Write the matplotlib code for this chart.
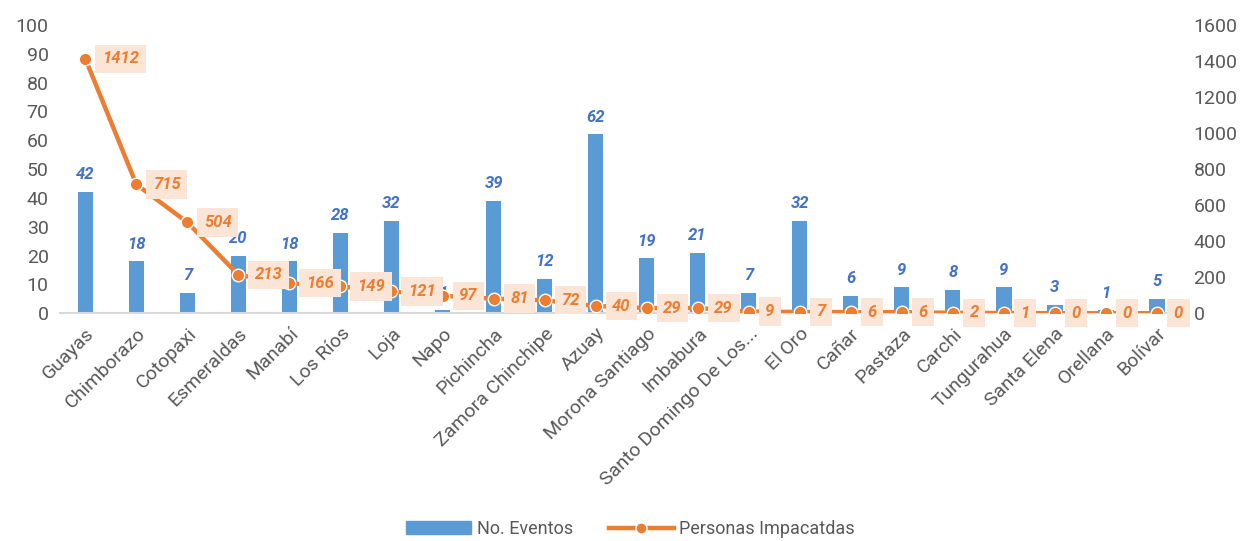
import matplotlib
matplotlib.use("Agg")
import matplotlib.pyplot as plt
import matplotlib.transforms as mtransforms
from matplotlib.lines import Line2D
from matplotlib.patches import Patch

provincias = ["Guayas", "Chimborazo", "Cotopaxi", "Esmeraldas", "Manabí", "Los Ríos", "Loja",
              "Napo", "Pichincha", "Zamora Chinchipe", "Azuay", "Morona Santiago", "Imbabura",
              "Santo Domingo De Los...", "El Oro", "Cañar", "Pastaza", "Carchi", "Tungurahua",
              "Santa Elena", "Orellana", "Bolívar"]
eventos = [42, 18, 7, 20, 18, 28, 32, 1, 39, 12, 62, 19, 21, 7, 32, 6, 9, 8, 9, 3, 1, 5]
personas = [1412, 715, 504, 213, 166, 149, 121, 97, 81, 72, 40, 29, 29, 9, 7, 6, 6, 2, 1, 0, 0, 0]

plt.rcParams["font.family"] = ["Roboto", "DejaVu Sans"]

blue = "#5B9BD5"
orange = "#ED7D31"
gray = "#595959"

fig = plt.figure(figsize=(12.46, 5.41), dpi=100)
ax = fig.add_axes([0.048, 0.421, 0.901, 0.533])
ax2 = ax.twinx()

x = list(range(len(provincias)))
ax.bar(x, eventos, width=0.3, color=blue, zorder=2)
for xi, v in zip(x, eventos):
    ax.annotate(str(v), (xi, v), xytext=(0, 7), textcoords="offset points", ha="center", va="bottom",
                color="#4472C4", fontsize=12, fontweight="bold", fontstyle="italic")

ax2.plot(x, personas, color=orange, lw=3.2, marker="o", ms=9, mfc=orange, mec="white", mew=1, zorder=3)
for xi, v in zip(x, personas):
    ax2.annotate(str(v), (xi, v), xytext=(12, 0), textcoords="offset points", ha="left", va="center",
                 color=orange, fontsize=12, fontweight="bold", fontstyle="italic",
                 bbox=dict(boxstyle="square,pad=0.4", fc="#FBE5D6", ec="none"), zorder=4)

ax.set_xlim(-0.5, len(provincias) - 0.5)
ax.set_ylim(0, 100)
ax2.set_ylim(0, 1600)
ax.set_yticks(range(0, 101, 10))
ax2.set_yticks(range(0, 1601, 200))
ax.set_xticks(x)
ax.set_xticklabels(provincias, rotation=45, ha="right", rotation_mode="anchor")
shift = mtransforms.ScaledTranslation(-10 / 100, 0, fig.dpi_scale_trans)
for lab in ax.get_xticklabels():
    lab.set_transform(lab.get_transform() + shift)

for a in (ax, ax2):
    for s in a.spines.values():
        s.set_visible(False)
    a.tick_params(length=0, labelsize=14, colors=gray)
ax.spines["bottom"].set_visible(True)
ax.spines["bottom"].set_color("#D9D9D9")
ax.spines["bottom"].set_linewidth(1.5)
ax.tick_params(axis="y", pad=8)
ax.tick_params(axis="x", pad=8)
ax2.tick_params(axis="y", pad=8)

ax.set_zorder(ax2.get_zorder() - 1)
ax.patch.set_visible(False)

handles = [Patch(color=blue, label="No. Eventos"),
           Line2D([], [], color=orange, lw=3.2, marker="o", ms=8, mec="white", label="Personas Impacatdas")]
fig.legend(handles=handles, loc="center", bbox_to_anchor=(0.506, 0.022), ncol=2, frameon=False,
           fontsize=13, labelcolor=gray, handlelength=3.6, handletextpad=0.3, columnspacing=2.0)

fig.savefig("out.png", dpi=100)
